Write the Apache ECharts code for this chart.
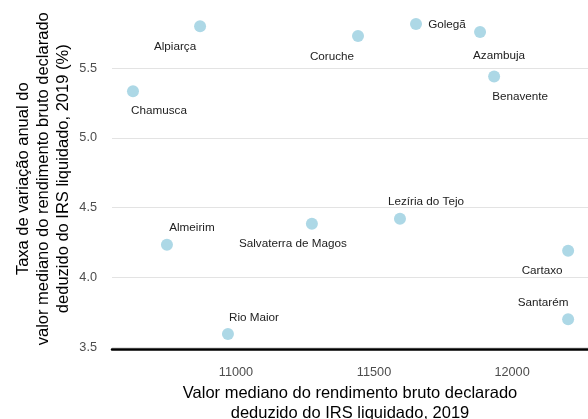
<!DOCTYPE html>
<html><head><meta charset="utf-8">
<script src="https://cdn.jsdelivr.net/npm/echarts@6/dist/echarts.min.js"></script>
<style>html,body{margin:0;padding:0;background:#fff}#c{width:588px;height:419px}</style>
</head><body><div id="c"></div>
<script>
const municipalities = ['Alpiarça','Chamusca','Coruche','Golegã','Azambuja','Benavente','Almeirim','Rio Maior','Salvaterra de Magos','Lezíria do Tejo','Cartaxo','Santarém'];
const incomeMedian = [10870,10627,11442,11652,11884,11935,10750,10971,11275,11594,12203,12203];
const growthRate = [5.80,5.335,5.73,5.817,5.76,5.44,4.234,3.594,4.385,4.42,4.19,3.70];
const xTicks = [11000,11500,12000];
const yTicks = [3.5,4.0,4.5,5.0,5.5];
const labelOffsets = [[-25,20],[26,20],[-26,21],[31,1],[19,24],[26,20],[25,-17],[26,-16],[-19,20],[26,-17],[-26,20],[-25,-16]];

const FONT = '"Liberation Sans", Arial, sans-serif';
const chart = echarts.init(document.getElementById('c'), null, {renderer:'canvas'});
const data = municipalities.map((name,i)=>({
  name: name,
  value: [incomeMedian[i], growthRate[i]]
}));
chart.setOption({
  animation:false,
  backgroundColor:'#fff',
  grid:{left:112,right:0,top:8.5,bottom:70,containLabel:false,outerBoundsMode:'none'},
  xAxis:{
    type:'value', min:10551, max:12275,
    name:'Valor mediano do rendimento bruto declarado\ndeduzido do IRS liquidado, 2019',
    nameLocation:'middle', nameGap:34,
    nameTextStyle:{fontFamily:FONT,fontSize:16.5,color:'#000',lineHeight:19.5},
    axisLine:{show:true,lineStyle:{color:'#000',width:2.5}},
    axisTick:{show:false,customValues:xTicks},
    axisLabel:{customValues:xTicks,margin:17,fontFamily:FONT,fontSize:12.7,color:'#4d4d4d',formatter:v=>String(Math.round(v))},
    splitLine:{show:false}
  },
  yAxis:{
    type:'value', min:3.486, max:5.928,
    name:'Taxa de variação anual do\nvalor mediano do rendimento bruto declarado\ndeduzido do IRS liquidado, 2019 (%)',
    nameLocation:'middle', nameGap:39, nameRotate:90, nameMoveOverlap:false,
    nameTextStyle:{fontFamily:FONT,fontSize:16.5,color:'#000',lineHeight:20},
    axisLine:{show:false},
    axisTick:{show:false,customValues:yTicks},
    axisLabel:{customValues:yTicks,margin:15,fontFamily:FONT,fontSize:12.7,color:'#4d4d4d',formatter:v=>Number(v).toFixed(1)},
    splitLine:{show:true,lineStyle:{color:'#e3e3e3',width:1.2}}
  },
  series:[{
    type:'scatter',
    symbolSize:12,
    itemStyle:{color:'#ADD8E6',opacity:1},
    label:{show:true,position:'inside',formatter:p=>p.name,fontFamily:FONT,fontSize:11.7,color:'#222'},
    labelLayout:function(p){
      const o = labelOffsets[p.dataIndex];
      return {dx:o[0],dy:o[1],hideOverlap:false};
    },
    data:data
  }]
});
</script></body></html>
